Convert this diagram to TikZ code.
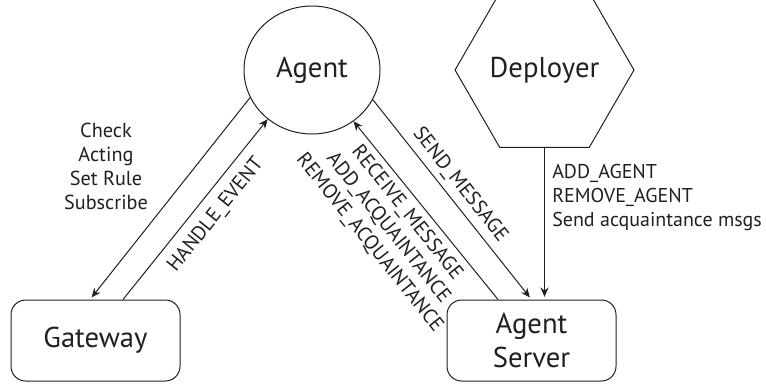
\documentclass[tikz,border=0pt]{standalone}
\usepackage{fontspec}
\setmainfont{PT Sans}
\usetikzlibrary{shapes.geometric,arrows.meta,calc}
\definecolor{ink}{RGB}{35,31,32}
\begin{document}
\begin{tikzpicture}[x=0.75pt,y=-0.75pt,
  every node/.style={text=ink},
  bigtext/.style={font=\fontsize{21.5}{26}\selectfont},
  msgtext/.style={font=\fontsize{15.2}{18}\selectfont, inner sep=0pt},
  outline/.style={draw=ink, line width=0.75pt},
  boxnode/.style={outline, rounded corners=11pt, minimum width=126.75pt,
    minimum height=60.75pt, inner sep=0pt, bigtext, align=center},
  link/.style={draw=ink, line width=0.75pt, -{Stealth[length=7pt,width=6pt]}},
]
\useasboundingbox (0,0) rectangle (766,383);

% main components
\node[outline, ellipse, minimum width=102pt, minimum height=96pt,
      inner sep=0pt, bigtext] (agent) at (312,70) {Agent};
\node[outline, regular polygon, regular polygon sides=6, minimum size=112.5pt,
      inner sep=0pt, bigtext] (deployer) at (544.5,70) {Deployer};
\node[boxnode] (gateway) at (95.5,340.5) {Gateway};
\node[boxnode] (server) at (531.5,340.5) {Agent\\Server};

% message flows
\draw[link, shorten >=2pt] (agent.204) -- ($(gateway.north)+(-5.5,0)$);
\draw[link] ($(gateway.north)+(27.5,0)$) -- (agent.228.7);
\draw[link, shorten >=2pt] (agent.334.5) -- (server.north);
\draw[link] ($(server.north)+(-33.5,0)$) -- (agent.309.6);
\draw[link, shorten >=2pt] (deployer.south) -- (deployer.south |- server.north);

% message labels
\node[msgtext, align=center] (gwmsgs) at (106,166)
  {Check\\Acting\\Set Rule\\Subscribe};
\node[msgtext, rotate=51.2] (handlelbl) at (216,215) {HANDLE\_EVENT};
\node[msgtext, rotate=-51.6] (sendlbl) at (460,185) {SEND\_MESSAGE};
\node[msgtext, rotate=-51.3, align=center] (recvlbl) at (388,228)
  {RECEIVE\_MESSAGE\\ADD\_ACQUAINTANCE\\REMOVE\_ACQUAINTANCE};
\node[msgtext, font=\fontsize{15}{18}\selectfont, align=left,
      anchor=north west] (deplmsgs) at (552,164)
  {ADD\_AGENT\\REMOVE\_AGENT\\Send acquaintance msgs};
\end{tikzpicture}
\end{document}
